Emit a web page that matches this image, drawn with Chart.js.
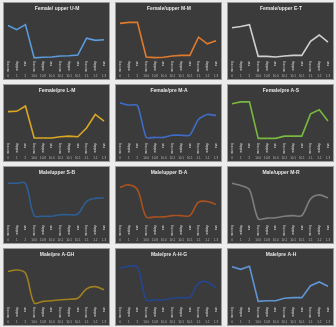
<!DOCTYPE html>
<html>
<head>
<meta charset="utf-8">
<script src="https://cdn.jsdelivr.net/npm/chart.js@4"></script>
<style>
  html, body { margin: 0; padding: 0; background: #ececec; }
  #wrap { position: relative; width: 336px; height: 327px; overflow: hidden; }
  .panel { position: absolute; width: 107px; height: 78px; background: #3b3b3b; border: 1px solid #9a9a9a; box-sizing: border-box; }
  .panel canvas { display: block; }
</style>
</head>
<body>
<div id="wrap"></div>
<script>
// x categories (two label rows under each panel)
const stages = ['morning', 'midday', 'eve', 'morning', 'midday', 'eve', 'morning', 'midday', 'eve', 'morning', 'midday', 'eve'];
const codes = ['0', '1', '2', '10.0', '10.8', '10.0', '10.1', '10.1', '10.1', '1.1', '1.2', '1.3'];

const titles = [
  'Female/ upper U-M', 'Female/upper M-M', 'Female/upper E-T',
  'Female/pre L-M', 'Female/pre M-A', 'Female/pre A-S',
  'Male/upper S-B', 'Male/upper B-A', 'Male/upper M-R',
  'Male/pre A-GH', 'Male/pre A-H-G', 'Male/pre A-H'
];

const femaleUpperUM = [125, 112, 128, 22, 24, 25, 28, 29, 31, 85, 78, 80];
const femaleUpperMM = [132, 135, 135, 25, 23, 24, 28, 30, 30, 88, 67, 77];
const femaleUpperET = [118, 122, 128, 27, 27, 25, 28, 30, 30, 75, 95, 72];
const femalePreLM   = [112, 113, 130, 28, 28, 28, 32, 34, 32, 60, 103, 82];
const femalePreMA   = [140, 133, 132, 30, 30, 30, 37, 37, 37, 88, 103, 100];
const femalePreAS   = [137, 143, 143, 27, 27, 27, 34, 34, 34, 105, 118, 82];
const maleUpperSB   = [145, 145, 145, 42, 40, 40, 45, 45, 47, 87, 97, 98];
const maleUpperBA   = [132, 140, 125, 38, 38, 38, 42, 42, 42, 85, 87, 78];
const maleUpperMR   = [145, 138, 125, 32, 34, 35, 40, 42, 42, 95, 108, 98];
const malePreAGH    = [125, 130, 120, 25, 30, 32, 35, 37, 40, 70, 77, 67];
const malePreAHG    = [135, 142, 140, 35, 35, 35, 40, 42, 43, 88, 92, 72];
const malePreAH     = [140, 132, 142, 30, 32, 32, 40, 42, 42, 80, 92, 78];

const series = [
  femaleUpperUM, femaleUpperMM, femaleUpperET,
  femalePreLM, femalePreMA, femalePreAS,
  maleUpperSB, maleUpperBA, maleUpperMR,
  malePreAGH, malePreAHG, malePreAH
];

const colors = [
  '#5b9bdc', '#e07b2e', '#cfcfcf',
  '#d9a821', '#3f6cc6', '#78b83e',
  '#2d5f96', '#a9511f', '#7d7d7d',
  '#9f7f1f', '#254690', '#5f95d4'
];
const smooth = [0, 0, 0, 0, 0.2, 0, 0.35, 0.35, 0.3, 0.35, 0.35, 0];

const lefts = [3, 115, 227];
const tops = [2, 84, 166, 248];
const wrap = document.getElementById('wrap');
const tickFont = { size: 3, family: 'Liberation Sans', lineHeight: 1 };

series.forEach((vals, i) => {
  const panel = document.createElement('div');
  panel.className = 'panel';
  panel.style.left = lefts[i % 3] + 'px';
  panel.style.top = tops[Math.floor(i / 3)] + 'px';
  const cv = document.createElement('canvas');
  cv.width = 105; cv.height = 76;
  panel.appendChild(cv);
  wrap.appendChild(panel);

  new Chart(cv, {
    type: 'line',
    data: {
      labels: stages,
      datasets: [{ data: vals, borderColor: colors[i], borderWidth: 1.6, pointRadius: 0, tension: smooth[i], fill: false }]
    },
    options: {
      responsive: false,
      animation: false,
      layout: { padding: { left: 4, right: 3, top: 0, bottom: 0 } },
      plugins: {
        legend: { display: false },
        tooltip: { enabled: false },
        title: { display: true, text: titles[i], color: '#e6e6e6', font: { size: 5, weight: 'bold', family: 'Liberation Sans' }, padding: { top: 3, bottom: 1 } }
      },
      scales: {
        x: {
          grid: { display: false, drawTicks: false }, border: { display: false },
          ticks: { color: '#d4d4d4', font: tickFont, autoSkip: false, minRotation: 90, maxRotation: 90, padding: 2 }
        },
        x2: {
          type: 'category', labels: codes, position: 'bottom',
          grid: { display: false, drawTicks: false }, border: { display: false },
          ticks: { color: '#b8b8b8', font: tickFont, autoSkip: false, maxRotation: 0, padding: 1 }
        },
        y: { display: false, min: 18, max: 165 }
      }
    }
  });
});
</script>
</body>
</html>
